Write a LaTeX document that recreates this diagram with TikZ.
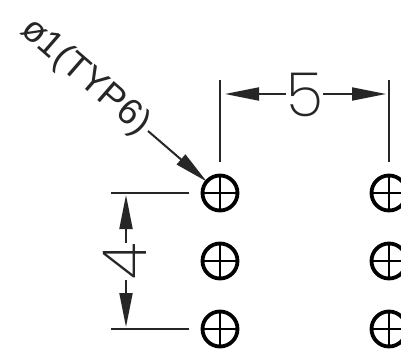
\documentclass[tikz,border=0pt]{standalone}
\usepackage{fontspec}
\setmainfont{Poppins ExtraLight}
\newfontfamily\notefont{Liberation Sans}
\usetikzlibrary{arrows.meta}
\tikzset{
  x=1pt,y=1pt,
  hole/.style={circle,draw=black,line width=3.8pt,minimum size=35pt,inner sep=0pt,outer sep=0pt,path picture={
    \draw[line width=1.9pt] (path picture bounding box.north)--(path picture bounding box.south);
    \draw[line width=1.9pt] (path picture bounding box.west)--(path picture bounding box.east);}},
  ext/.style={draw=black!85,line width=2pt},
  dim/.style={draw=black!85,line width=2pt,-{Triangle[length=34pt,width=13pt]}},
  lbl/.style={inner sep=0pt,text=black!85}
}
\begin{document}
\begin{tikzpicture}
\useasboundingbox (0,0) rectangle (401,351);
\clip (0,0) rectangle (401,351);
% holes
\node[hole] (a1) at (220,158) {};
\node[hole] (a2) at (220,90) {};
\node[hole] (a3) at (220,22) {};
\node[hole] (b1) at (389,158) {};
\node[hole] (b2) at (389,90) {};
\node[hole] (b3) at (389,22) {};
% horizontal dimension
\coordinate (e1t) at (220,271);
\coordinate (e1b) at (220,189);
\coordinate (e2t) at (389,271);
\coordinate (e2b) at (389,189);
\draw[ext] (e1t)--(e1b);
\draw[ext] (e2t)--(e2b);
\node[lbl,font=\fontsize{61}{61}\selectfont] (five) at (305,256) {5};
\coordinate (dl) at (225,257);
\coordinate (dr) at (386,257);
\coordinate (dlt) at (286,257);
\coordinate (drt) at (323,257);
\draw[dim] (dlt)--(dl);
\draw[dim] (drt)--(dr);
% vertical dimension
\coordinate (v1a) at (111,158);
\coordinate (v1b) at (189,158);
\coordinate (v2a) at (111,22);
\coordinate (v2b) at (189,22);
\draw[ext] (v1a)--(v1b);
\draw[ext] (v2a)--(v2b);
\node[lbl,rotate=90,font=\fontsize{61}{61}\selectfont] (four) at (125,90) {4};
\coordinate (vt) at (126,156);
\coordinate (vb) at (126,24);
\coordinate (vtt) at (126,108);
\coordinate (vbt) at (126,71);
\draw[dim] (vtt)--(vt);
\draw[dim] (vbt)--(vb);
% leader
\node[lbl,rotate=-41,font=\notefont\fontsize{36.5}{36.5}\selectfont] (note) at (85,274) {ø1(TYP6)};
\coordinate (lead) at (148,220);
\draw[dim] (lead)--(a1);
\end{tikzpicture}
\end{document}
